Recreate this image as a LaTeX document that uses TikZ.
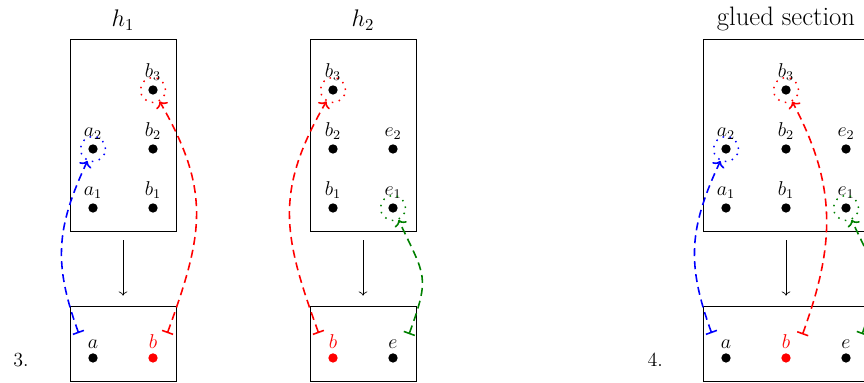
\documentclass[tikz,border=0pt]{standalone}
\usetikzlibrary{positioning, fit, arrows.meta}
\tikzset{
  vertex/.style={circle, fill, inner sep=0pt, minimum size=5.6pt},
  ring/.style={circle, draw, line width=0.9pt, dash pattern=on 0.9pt off 3.4pt, minimum size=15pt, inner sep=0pt},
  halo/.style={circle, minimum size=34pt, inner sep=0pt},
  frame/.style={draw, rectangle, inner sep=0pt},
  link/.style={{Bar[width=7pt]}-{To[width=8pt, length=3.4pt]}, line width=0.95pt, dash pattern=on 4.8pt off 3pt},
  heading/.style={font=\Large},
  every label/.style={inner sep=2pt, font=\large},
}
\begin{document}
\begin{tikzpicture}[x=36pt, y=35.4pt, label distance=0.3pt]
    \useasboundingbox (-1.55,-2.966) rectangle (12.85,3.525);
    \clip (-1.55,-2.966) rectangle (12.85,3.525);

    % Nodes h1
    \foreach \v/\i/\x/\y in {a/1/0/0, a/2/0/1, b/1/1/0, b/2/1/1, b/3/1/2}
        \node[vertex, label=above:$\v_\i$] (p1\v\i) at (\x,\y) {};
    \node[vertex, label=above:$a$] (q1a) at (0,-2.542) {};
    \node[vertex, red, label={[red]above:$b$}] (q1b) at (1,-2.542) {};
    \node[ring, blue] (r1a2) at (p1a2) {};
    \node[ring, red] (r1b3) at (p1b3) {};
    \node[halo] (g1a) at (q1a) {};
    \node[halo] (g1b) at (q1b) {};
    \node[frame, fit={(-0.383,-0.39) (1.383,2.864)}] (top1) {};
    \node[frame, fit={(-0.383,-2.932) (1.383,-1.661)}] (bot1) {};
    \node[heading, above=1.5pt of top1] (t1) {$h_1$};
    \node[anchor=base, font=\large] (n3) at (-1.2,-2.68) {3.};

    % Nodes h2
    \foreach \v/\i/\x/\y in {b/1/4/0, b/2/4/1, b/3/4/2, e/1/5/0, e/2/5/1}
        \node[vertex, label=above:$\v_\i$] (p2\v\i) at (\x,\y) {};
    \node[vertex, red, label={[red]above:$b$}] (q2b) at (4,-2.542) {};
    \node[vertex, label=above:$e$] (q2e) at (5,-2.542) {};
    \node[ring, red] (r2b3) at (p2b3) {};
    \node[ring, green!50!black] (r2e1) at (p2e1) {};
    \node[halo] (g2b) at (q2b) {};
    \node[halo] (g2e) at (q2e) {};
    \node[frame, fit={(3.617,-0.39) (5.383,2.864)}] (top2) {};
    \node[frame, fit={(3.617,-2.932) (5.383,-1.661)}] (bot2) {};
    \node[heading, above=1.5pt of top2] (t2) {$h_2$};

    % Nodes glued section
    \foreach \v/\i/\x/\y in {a/1/10.55/0, a/2/10.55/1, b/1/11.55/0, b/2/11.55/1, b/3/11.55/2, e/1/12.55/0, e/2/12.55/1}
        \node[vertex, label=above:$\v_\i$] (p3\v\i) at (\x,\y) {};
    \node[vertex, label=above:$a$] (q3a) at (10.55,-2.542) {};
    \node[vertex, red, label={[red]above:$b$}] (q3b) at (11.55,-2.542) {};
    \node[vertex, label=above:$e$] (q3e) at (12.55,-2.542) {};
    \node[ring, blue] (r3a2) at (p3a2) {};
    \node[ring, red] (r3b3) at (p3b3) {};
    \node[ring, green!50!black] (r3e1) at (p3e1) {};
    \node[halo] (g3a) at (q3a) {};
    \node[halo] (g3b) at (q3b) {};
    \node[halo] (g3e) at (q3e) {};
    \node[frame, fit={(10.167,-0.39) (12.933,2.864)}] (top3) {};
    \node[frame, fit={(10.167,-2.932) (12.933,-1.661)}] (bot3) {};
    \node[heading, font=\fontsize{16}{19}\selectfont, above=1pt of top3] (t3) {glued section};
    \node[anchor=base, font=\large] (n4) at (9.37,-2.68) {4.};

    % Edges
    \draw[->, shorten <=5.4pt, shorten >=6pt] (top1) -- (bot1);
    \draw[->, shorten <=5.4pt, shorten >=6pt] (top2) -- (bot2);
    \draw[->, shorten <=5.4pt, shorten >=6pt] (top3) -- (bot3);
    \draw[link, blue] (g1a.120) to[out=110, in=-115, looseness=1.1] (r1a2);
    \draw[link, red] (g1b.60) to[out=70, in=-60, looseness=1.15] (r1b3);
    \draw[link, red] (g2b.120) to[out=110, in=-120, looseness=1.15] (r2b3);
    \draw[link, green!50!black] (g2e.56) to[out=70, in=-65, looseness=1.4] (r2e1);
    \draw[link, blue] (g3a.120) to[out=110, in=-115, looseness=1.1] (r3a2);
    \draw[link, red] (g3b.55) to[out=70, in=-62, looseness=1.05] (r3b3);
    \draw[link, green!50!black] (g3e.56) to[out=70, in=-65, looseness=1.4] (r3e1);
\end{tikzpicture}
\end{document}
